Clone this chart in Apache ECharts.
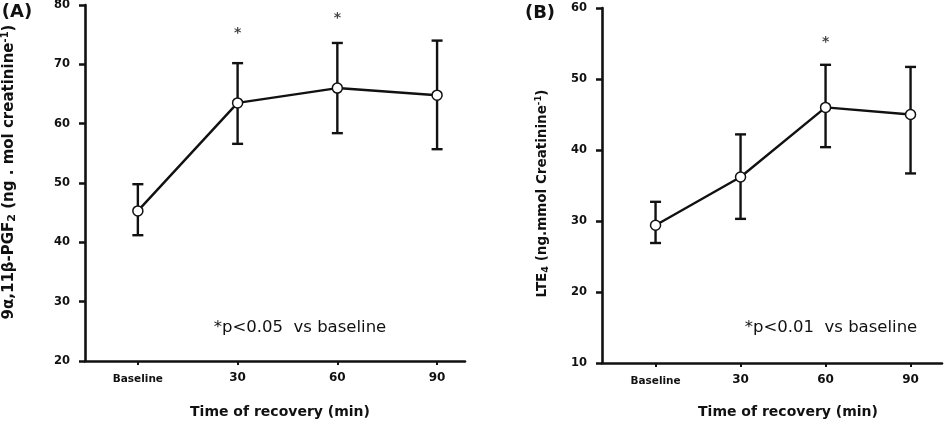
<!DOCTYPE html>
<html>
<head>
<meta charset="utf-8">
<script src="https://cdn.jsdelivr.net/npm/echarts@6/dist/echarts.min.js"></script>
<style>
  html, body { margin: 0; padding: 0; background: #fff; }
  #chart { width: 945px; height: 421px; }
</style>
</head>
<body>
<div id="chart"></div>
<script>
const categories = ["Baseline", "30", "60", "90"];
const pgfMean = [45.3, 63.5, 66.0, 64.8];
const pgfUpper = [49.8, 70.2, 73.6, 74.0];
const pgfLower = [41.2, 56.6, 58.4, 55.7];
const pgfStars = [null, 75.2, 77.8, null];
const lteMean = [29.4, 36.2, 46.0, 45.0];
const lteUpper = [32.7, 42.2, 52.0, 51.7];
const lteLower = [26.9, 30.3, 40.4, 36.7];
const lteStars = [null, null, 55.2, null];
const categoryTicks = [0, 1, 2, 3];

const INK = "#111";
const chart = echarts.init(document.getElementById("chart"));

function pointsOf(values) {
  return values.map((v, i) => [i, v]).filter((p) => p[1] !== null);
}

function errorData(upper, lower) {
  return upper.map((u, i) => [i, u, lower[i]]);
}

function renderErrorBar(params, api) {
  const top = api.coord([api.value(0), api.value(1)]);
  const bot = api.coord([api.value(0), api.value(2)]);
  const half = 5.5;
  const style = { stroke: INK, lineWidth: 2.4 };
  return {
    type: "group",
    children: [
      { type: "line", shape: { x1: top[0], y1: top[1], x2: bot[0], y2: bot[1] }, style },
      { type: "line", shape: { x1: top[0] - half, y1: top[1], x2: top[0] + half, y2: top[1] }, style },
      { type: "line", shape: { x1: bot[0] - half, y1: bot[1], x2: bot[0] + half, y2: bot[1] }, style },
    ],
  };
}

function xAxisFor(gridIndex, min, max, gap, padLeft) {
  return {
    type: "value",
    gridIndex,
    min,
    max,
    name: "Time of recovery (min)",
    nameLocation: "middle",
    nameGap: gap,
    nameTextStyle: {
      color: INK,
      fontFamily: "DejaVu Sans",
      fontWeight: "bold",
      fontSize: 14,
      padding: [0, 0, 0, padLeft],
    },
    axisLine: { show: true, onZero: false, lineStyle: { color: INK, width: 2.6 } },
    axisTick: { show: true, length: 4, customValues: categoryTicks, lineStyle: { color: INK, width: 2 } },
    splitLine: { show: false },
    axisLabel: {
      customValues: categoryTicks,
      margin: 11,
      color: INK,
      fontFamily: "DejaVu Sans",
      fontWeight: "bold",
      fontSize: 12,
      formatter: (v) => (v === 0 ? "{b|" + categories[v] + "}" : categories[v]),
      rich: { b: { fontFamily: "DejaVu Sans", fontWeight: "bold", fontSize: 10.5, color: INK, padding: [2, 0, 0, 0] } },
    },
  };
}

function yAxisFor(gridIndex, min, max, nameParts, gap, size, pad) {
  return {
    type: "value",
    gridIndex,
    min,
    max,
    interval: 10,
    name: nameParts,
    nameLocation: "middle",
    nameRotate: 90,
    nameGap: gap,
    nameTextStyle: {
      color: INK,
      fontFamily: "DejaVu Sans",
      fontWeight: "bold",
      fontSize: size,
      padding: pad,
      rich: {
        sub: { fontFamily: "DejaVu Sans", fontWeight: "bold", fontSize: size - 4, color: INK, verticalAlign: "bottom", padding: [7, 0, 0, 0] },
        sup: { fontFamily: "DejaVu Sans", fontWeight: "bold", fontSize: size - 5, color: INK, verticalAlign: "top", padding: [0, 0, 7, 0] },
      },
    },
    axisLine: { show: true, onZero: false, lineStyle: { color: INK, width: 2.6 } },
    axisTick: { show: true, length: 6, lineStyle: { color: INK, width: 2.5 } },
    splitLine: { show: false },
    axisLabel: {
      margin: 15,
      color: INK,
      fontFamily: "DejaVu Sans",
      fontWeight: "bold",
      fontSize: 11.5,
    },
  };
}

function panelSeries(idx, mean, upper, lower, stars) {
  return [
    {
      type: "custom",
      xAxisIndex: idx,
      yAxisIndex: idx,
      data: errorData(upper, lower),
      renderItem: renderErrorBar,
      z: 2,
      silent: true,
    },
    {
      type: "line",
      xAxisIndex: idx,
      yAxisIndex: idx,
      data: pointsOf(mean),
      symbol: "circle",
      symbolSize: 10,
      lineStyle: { color: INK, width: 2.4 },
      itemStyle: { color: "#fff", borderColor: INK, borderWidth: 1.5 },
      z: 3,
    },
    {
      type: "scatter",
      xAxisIndex: idx,
      yAxisIndex: idx,
      data: pointsOf(stars),
      symbolSize: 1,
      itemStyle: { color: "rgba(0,0,0,0)" },
      label: {
        show: true,
        position: "inside",
        formatter: "*",
        color: INK,
        fontFamily: "DejaVu Sans",
        fontWeight: "bold",
        fontSize: 14,
      },
      z: 3,
    },
  ];
}

chart.setOption({
  backgroundColor: "#fff",
  animation: false,
  grid: [
    { left: 85, top: 5, width: 380, height: 356, outerBoundsMode: "none" },
    { left: 602, top: 8, width: 340, height: 355, outerBoundsMode: "none" },
  ],
  xAxis: [xAxisFor(0, -0.53, 3.28, 44, 10), xAxisFor(1, -0.63, 3.37, 42, 32)],
  yAxis: [
    yAxisFor(0, 20, 80, "9\u03b1,11\u03b2-PGF{sub|2} (ng . mol creatinine{sup|-1})", 67, 15, [0, 0, 0, 22]),
    yAxisFor(1, 10, 60, "LTE{sub|4} (ng.mmol Creatinine{sup|-1})", 51, 13.5, [0, 16, 0, 0]),
  ],
  graphic: [
    { type: "text", x: 17, y: 12, style: { text: "(A)", fontFamily: "DejaVu Sans", fontWeight: "bold", fontSize: 18, fill: INK, align: "center", verticalAlign: "middle" } },
    { type: "text", x: 540, y: 13, style: { text: "(B)", fontFamily: "DejaVu Sans", fontWeight: "bold", fontSize: 18, fill: INK, align: "center", verticalAlign: "middle" } },
    { type: "text", x: 300, y: 328, style: { text: "*p<0.05  vs baseline", fontFamily: "DejaVu Sans", fontSize: 16.5, fill: INK, align: "center", verticalAlign: "middle" } },
    { type: "text", x: 831, y: 328, style: { text: "*p<0.01  vs baseline", fontFamily: "DejaVu Sans", fontSize: 16.5, fill: INK, align: "center", verticalAlign: "middle" } },
  ],
  series: [
    ...panelSeries(0, pgfMean, pgfUpper, pgfLower, pgfStars),
    ...panelSeries(1, lteMean, lteUpper, lteLower, lteStars),
  ],
});

window.addEventListener("resize", () => chart.resize());
</script>
</body>
</html>
